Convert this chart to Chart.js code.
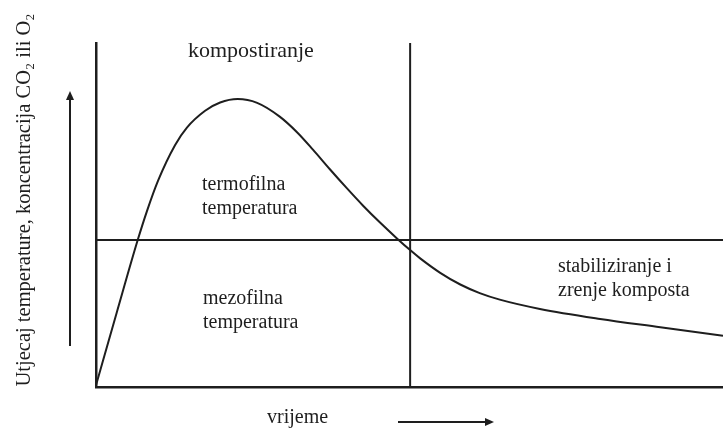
<!DOCTYPE html>
<html>
<head>
<meta charset="utf-8">
<script src="https://cdn.jsdelivr.net/npm/chart.js@4.4.1/dist/chart.umd.min.js"></script>
<style>
  body { margin: 0; background: #fff; }
  canvas { display: block; }
</style>
</head>
<body>
<canvas id="compost-chart" width="723" height="428"></canvas>
<script>
// time axis (0..100) and curve level (0..100)
const timeValues = [0, 3.3, 6.7, 8.1, 9.9, 12.6, 14.5, 17.4, 19.8, 22.6, 25.7, 29.3, 32.1, 34.6, 37.3, 40.0, 42.6, 45.3, 48.0, 50.1, 51.7, 54.9, 58.1, 61.2, 64.4, 70.8, 80.4, 90.0, 100];
const curveValues = [0.5, 21.6, 43.0, 51.0, 60.0, 70.3, 75.4, 80.3, 82.7, 83.7, 82.6, 78.6, 74.0, 69.0, 63.3, 57.8, 52.7, 47.8, 43.2, 39.8, 37.4, 33.2, 29.8, 27.3, 25.4, 22.7, 19.8, 17.4, 14.9];

const phaseBoundary = 50.1;   // end of composting phase
const thermoLimit = 42.7;     // mesophilic / thermophilic boundary

const yLabel = 'Utjecaj temperature, koncentracija CO\u2082 ili O\u2082';
const xLabel = 'vrijeme';
const phaseLabel = 'kompostiranje';
const thermoLabel = ['termofilna', 'temperatura'];
const mesoLabel = ['mezofilna', 'temperatura'];
const maturingLabel = ['stabiliziranje i', 'zrenje komposta'];

const ink = '#1e1e1e';
const serif = '"Liberation Serif", "Times New Roman", serif';

const curveData = timeValues.map((t, i) => ({ x: t, y: curveValues[i] }));

function arrow(ctx, x1, y1, x2, y2) {
    const ang = Math.atan2(y2 - y1, x2 - x1);
    ctx.beginPath();
    ctx.moveTo(x1, y1);
    ctx.lineTo(x2 - 6 * Math.cos(ang), y2 - 6 * Math.sin(ang));
    ctx.stroke();
    ctx.beginPath();
    ctx.moveTo(x2, y2);
    ctx.lineTo(x2 - 9 * Math.cos(ang) + 4 * Math.sin(ang), y2 - 9 * Math.sin(ang) - 4 * Math.cos(ang));
    ctx.lineTo(x2 - 9 * Math.cos(ang) - 4 * Math.sin(ang), y2 - 9 * Math.sin(ang) + 4 * Math.cos(ang));
    ctx.closePath();
    ctx.fill();
}

const labelsPlugin = {
    id: 'diagramLabels',
    afterDraw(chart) {
        const ctx = chart.ctx;
        ctx.save();
        ctx.fillStyle = ink;
        ctx.strokeStyle = ink;
        ctx.lineWidth = 2;
        ctx.textBaseline = 'alphabetic';
        ctx.textAlign = 'left';

        ctx.font = '22px ' + serif;
        ctx.fillText(phaseLabel, 188, 57);

        ctx.font = '20px ' + serif;
        ctx.fillText(thermoLabel[0], 202, 190);
        ctx.fillText(thermoLabel[1], 202, 214);
        ctx.fillText(mesoLabel[0], 203, 304);
        ctx.fillText(mesoLabel[1], 203, 328);
        ctx.fillText(maturingLabel[0], 558, 272);
        ctx.fillText(maturingLabel[1], 558, 296);
        ctx.fillText(xLabel, 267, 423);

        // axis direction arrows
        arrow(ctx, 398, 422, 494, 422);
        arrow(ctx, 70, 346, 70, 91);

        ctx.save();
        ctx.translate(30, 200);
        ctx.rotate(-Math.PI / 2);
        ctx.textAlign = 'center';
        ctx.font = '20.5px ' + serif;
        ctx.fillText(yLabel, 0, 0);
        ctx.restore();

        ctx.restore();
    }
};

const ctx = document.getElementById('compost-chart').getContext('2d');
const compostChart = new Chart(ctx, {
    type: 'scatter',
    data: {
        datasets: [
            {
                data: curveData,
                showLine: true,
                borderColor: ink,
                borderWidth: 2,
                pointRadius: 0,
                cubicInterpolationMode: 'monotone'
            },
            {
                data: [{ x: phaseBoundary, y: 0 }, { x: phaseBoundary, y: 100 }],
                showLine: true,
                borderColor: ink,
                borderWidth: 2,
                pointRadius: 0
            },
            {
                data: [{ x: 0, y: thermoLimit }, { x: 100, y: thermoLimit }],
                showLine: true,
                borderColor: ink,
                borderWidth: 2,
                pointRadius: 0
            }
        ]
    },
    options: {
        responsive: false,
        animation: false,
        layout: {
            autoPadding: false,
            padding: { left: 88, top: 43, right: 0, bottom: 33 }
        },
        plugins: {
            legend: { display: false },
            tooltip: { enabled: false }
        },
        scales: {
            x: {
                type: 'linear',
                min: 0,
                max: 100,
                grid: { display: false },
                ticks: { display: false },
                border: { display: true, color: ink, width: 2.5 }
            },
            y: {
                type: 'linear',
                min: 0,
                max: 100,
                grid: { display: false },
                ticks: { display: false },
                border: { display: true, color: ink, width: 2.5 }
            }
        }
    },
    plugins: [labelsPlugin]
});
</script>
</body>
</html>
